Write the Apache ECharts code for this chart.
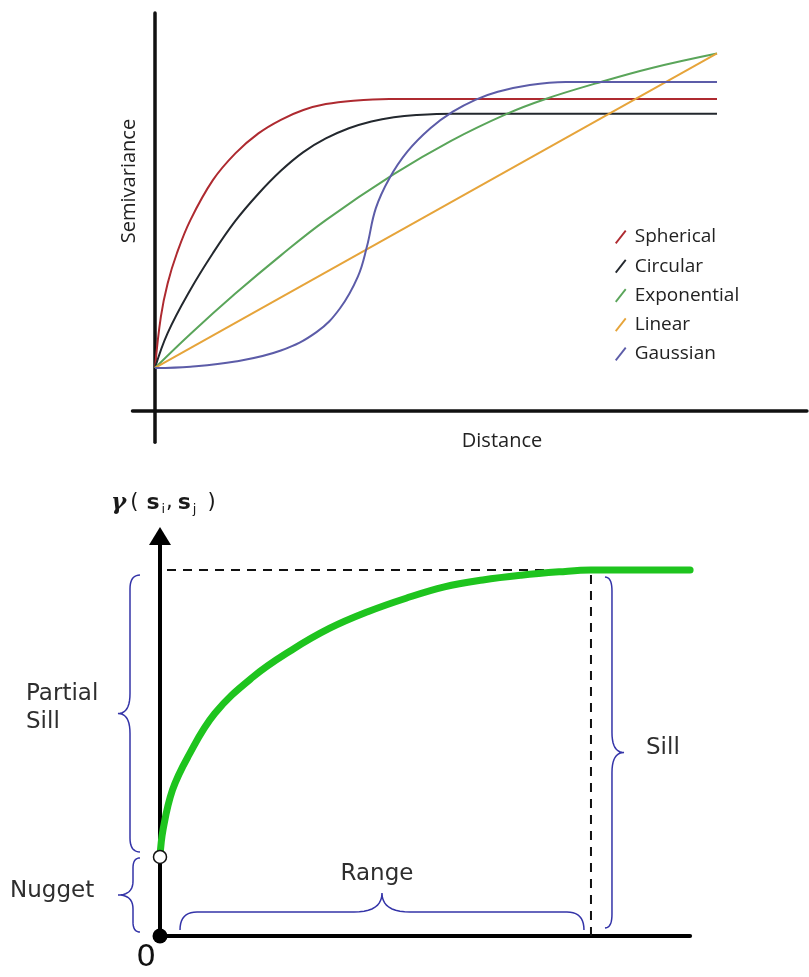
<!DOCTYPE html>
<html><head><meta charset="utf-8">
<script src="https://cdn.jsdelivr.net/npm/echarts@6/dist/echarts.min.js"></script>
<style>html,body{margin:0;padding:0;background:#fff}#c{width:809px;height:977px}</style>
</head><body><div id="c"></div>
<script>
// ---------- Top chart: semivariogram models (distance 0..100) ----------
const modelNames = ['Spherical', 'Circular', 'Exponential', 'Linear', 'Gaussian'];
const spherical = [[0,10],[1.05,22.1],[2.25,29.9],[3.9,37.0],[6.3,44.8],[10.3,54.2],[14.3,60.5],[18.4,65.2],[22.4,68.4],[26.4,70.7],[30.4,72.1],[35.3,72.9],[41.7,73.3],[100,73.3]];
const circular = [[0,10],[2.25,18.2],[6.3,28.4],[10.3,37.0],[14.3,44.6],[18.4,51.0],[22.4,56.4],[26.4,60.8],[30.4,64.0],[34.5,66.4],[38.5,68.0],[42.5,69.0],[46.5,69.5],[53.0,69.8],[100,69.8]];
const exponential = [[0,10],[6.3,18.0],[14.3,27.5],[22.4,36.5],[30.4,44.8],[42.5,55.6],[52.6,63.4],[62.6,69.8],[69.5,73.3],[78.3,76.9],[88.4,80.6],[100,84.0]];
const linear = [[0,10],[100,84.0]];
const gaussian = [[0,10],[6.3,10.3],[14.3,11.5],[22.4,14.1],[28.8,18.5],[32.9,24.0],[36.1,31.5],[37.7,38.5],[39.3,47.6],[41.7,54.6],[44.9,60.9],[49.0,66.4],[53.0,70.3],[57.0,73.1],[61.0,75.0],[66.7,76.6],[73.1,77.3],[100,77.3]];
const topAxisNames = ['Distance', 'Semivariance'];

// ---------- Bottom chart: exponential model with nugget / sill / range ----------
const nugget = 21.6;
const sill = 100;
const range = 100;
const fitted = [[0,21.6],[0.7,29.0],[2.9,39.9],[6.5,49.0],[12.7,60.8],[21.6,70.8],[30.5,78.1],[39.4,84.1],[48.2,88.6],[57.1,92.3],[66.0,95.4],[74.9,97.3],[83.8,98.6],[92.6,99.5],[100,100],[123,100]];
const braceLabels = ['Partial\nSill', 'Nugget', 'Sill', 'Range'];

// ------------------------------------------------------------------
const chart = echarts.init(document.getElementById('c'), null, {renderer: 'canvas'});
const topColors = ['#ae2a30', '#23282e', '#5aa55a', '#e6a43a', '#5c5ca8'];
const topData = [spherical, circular, exponential, linear, gaussian];

const series = [];
modelNames.forEach((n, i) => {
  series.push({
    type: 'line', name: n, xAxisIndex: 0, yAxisIndex: 0, data: topData[i],
    symbol: 'none', showSymbol: false, smooth: 0.4,
    lineStyle: {color: topColors[i], width: 2}, itemStyle: {color: topColors[i]},
    z: 3, silent: true, animation: false
  });
});

// bottom: dashed guides
series.push({
  type: 'line', xAxisIndex: 1, yAxisIndex: 1, data: [[0, sill], [range, sill]],
  symbol: 'none', silent: true, animation: false, z: 2,
  lineStyle: {color: '#111', width: 2, type: [9, 7], dashOffset: 9}
});
series.push({
  type: 'line', xAxisIndex: 1, yAxisIndex: 1, data: [[range, 0], [range, sill]],
  symbol: 'none', silent: true, animation: false, z: 2,
  lineStyle: {color: '#111', width: 2, type: [9, 7]}
});
// fitted curve
series.push({
  type: 'line', xAxisIndex: 1, yAxisIndex: 1, data: fitted, clip: false,
  symbol: 'none', smooth: 0.4, silent: true, animation: false, z: 4,
  lineStyle: {color: '#1ec41e', width: 7, cap: 'round'}
});
// origin & nugget points
series.push({
  type: 'scatter', xAxisIndex: 1, yAxisIndex: 1, data: [[0, 0]], clip: false,
  symbolSize: 15, itemStyle: {color: '#000', opacity: 1}, silent: true, animation: false, z: 6
});
series.push({
  type: 'scatter', xAxisIndex: 1, yAxisIndex: 1, data: [[0, nugget]], clip: false,
  symbolSize: 13, itemStyle: {color: '#fff', borderColor: '#111', borderWidth: 1.5, opacity: 1}, silent: true, animation: false, z: 8
});

// braces (pixel offsets relative to the data segment)
const braceCfg = [
  {dir: 'v', spine: -30, tip: -42, end: -20, inset: [5, 5], rE: 14, rT: 20},
  {dir: 'v', spine: -27, tip: -42, end: -20, inset: [4, 1], rE: 10, rT: 14},
  {dir: 'v', spine: 21, tip: 33, end: 14, inset: [8, 7], rE: 14, rT: 20},
  {dir: 'h', spine: -24, tip: -43, end: -6, inset: [20, 7], rE: 17, rT: 28}
];
function quad(p0, c, p1, out) {
  for (let k = 1; k <= 10; k++) {
    const t = k / 10, a = (1 - t) * (1 - t), b = 2 * (1 - t) * t, d = t * t;
    out.push([a * p0[0] + b * c[0] + d * p1[0], a * p0[1] + b * c[1] + d * p1[1]]);
  }
}
series.push({
  type: 'custom', coordinateSystem: 'cartesian2d', xAxisIndex: 1, yAxisIndex: 1, clip: false,
  silent: true, animation: false, z: 5,
  encode: {x: [0, 2], y: [1, 3]},
  data: [[0, nugget, 0, sill], [0, 0, 0, nugget], [range, 0, range, sill], [0, 0, range, 0]],
  renderItem: function (params, api) {
    const cfg = braceCfg[params.dataIndex];
    const A = api.coord([api.value(0), api.value(1)]);
    const B = api.coord([api.value(2), api.value(3)]);
    let tA, tB, u0;
    if (cfg.dir === 'v') { tA = A[1]; tB = B[1]; u0 = A[0]; } else { tA = A[0]; tB = B[0]; u0 = A[1]; }
    const s = Math.sign(tB - tA);
    const t1 = tA + s * cfg.inset[0], t2 = tB - s * cfg.inset[1], tm = (t1 + t2) / 2;
    const uS = u0 + cfg.spine, uT = u0 + cfg.tip, uE = u0 + cfg.end;
    const P = (t, u) => cfg.dir === 'v' ? [u, t] : [t, u];
    const pts = [P(t1, uE)];
    quad(P(t1, uE), P(t1, uS), P(t1 + s * cfg.rE, uS), pts);
    pts.push(P(tm - s * cfg.rT, uS));
    quad(P(tm - s * cfg.rT, uS), P(tm, uS), P(tm, uT), pts);
    quad(P(tm, uT), P(tm, uS), P(tm + s * cfg.rT, uS), pts);
    pts.push(P(t2 - s * cfg.rE, uS));
    quad(P(t2 - s * cfg.rE, uS), P(t2, uS), P(t2, uE), pts);
    return {type: 'polyline', shape: {points: pts}, style: {stroke: '#3434a8', lineWidth: 1.5, fill: null}};
  }
});

const axisOff = {axisTick: {show: false}, axisLabel: {show: false}, splitLine: {show: false}};
const topFont = '"Open Sans", "Noto Sans", sans-serif';
const botFont = '"DejaVu Sans", Verdana, sans-serif';

chart.setOption({
  backgroundColor: '#fff',
  animation: false,
  grid: [
    {left: 132.5, top: 13.1, width: 674.4, height: 429.25, outerBoundsMode: 'none'},
    {left: 160, top: 536, width: 530.1, height: 400, outerBoundsMode: 'none'}
  ],
  xAxis: [
    Object.assign({type: 'value', gridIndex: 0, min: -4, max: 116,
      axisLine: {show: true, onZero: true, lineStyle: {color: '#111', width: 3.5}}}, axisOff),
    Object.assign({type: 'value', gridIndex: 1, min: 0, max: 123,
      axisLine: {show: true, onZero: false, lineStyle: {color: '#000', width: 4}}}, axisOff)
  ],
  yAxis: [
    Object.assign({type: 'value', gridIndex: 0, min: -7.5, max: 93.5,
      axisLine: {show: true, onZero: true, lineStyle: {color: '#111', width: 3.5}}}, axisOff),
    Object.assign({type: 'value', gridIndex: 1, min: 0, max: 109.3,
      axisLine: {show: true, onZero: false, symbol: ['none', 'triangle'], symbolSize: [22, 18],
        lineStyle: {color: '#000', width: 4}}}, axisOff)
  ],
  legend: {
    orient: 'vertical', left: 610, top: 222,
    itemWidth: 14, itemHeight: 14, itemGap: 9.25,
    icon: 'path://M0,14L11,0L12.6,1.4L1.6,15.4Z',
    data: modelNames,
    selectedMode: false,
    textStyle: {fontFamily: topFont, fontSize: 19, color: '#222', lineHeight: 20, padding: [0, 0, 0, 2]}
  },
  graphic: [
    {type: 'text', x: 129, y: 181, rotation: Math.PI / 2,
      style: {text: topAxisNames[1], font: '20px ' + topFont, fill: '#222', align: 'center', verticalAlign: 'middle'}},
    {type: 'text', x: 502, y: 441,
      style: {text: topAxisNames[0], font: '20px ' + topFont, fill: '#222', align: 'center', verticalAlign: 'middle'}},
    {type: 'text', x: 111, y: 503,
      style: {
        text: '{g|γ}{po|(}{s|s}{sub|i}{c|,}{s|s}{sub2|j}{p|)}',
        verticalAlign: 'middle', align: 'left',
        rich: {
          g: {fontFamily: '"DejaVu Serif", serif', fontStyle: 'italic', fontWeight: 'bold', fontSize: 23, fill: '#1a1a1a', padding: [0, 4, 0, 0]},
          po: {fontFamily: botFont, fontSize: 21, fill: '#1a1a1a', padding: [0, 8, 0, 0]},
          p: {fontFamily: botFont, fontSize: 21, fill: '#1a1a1a'},
          c: {fontFamily: botFont, fontSize: 21, fill: '#1a1a1a', padding: [0, 5, 0, 0]},
          s: {fontFamily: botFont, fontWeight: 'bold', fontSize: 22, fill: '#1a1a1a'},
          sub: {fontFamily: botFont, fontSize: 13, fill: '#1a1a1a', padding: [14, 1, 0, 2]},
          sub2: {fontFamily: botFont, fontSize: 13, fill: '#1a1a1a', padding: [14, 11, 0, 2]}
        }
      }},
    {type: 'text', x: 26, y: 680,
      style: {text: braceLabels[0], font: '23px ' + botFont, fill: '#2e2e2e', align: 'left', verticalAlign: 'top', lineHeight: 28}},
    {type: 'text', x: 10, y: 891,
      style: {text: braceLabels[1], font: '23px ' + botFont, fill: '#2e2e2e', align: 'left', verticalAlign: 'middle'}},
    {type: 'text', x: 646, y: 748,
      style: {text: braceLabels[2], font: '23px ' + botFont, fill: '#2e2e2e', align: 'left', verticalAlign: 'middle'}},
    {type: 'text', x: 377, y: 874,
      style: {text: braceLabels[3], font: '23px ' + botFont, fill: '#2e2e2e', align: 'center', verticalAlign: 'middle'}},
    {type: 'text', x: 146, y: 958,
      style: {text: '0', font: '31px ' + botFont, fill: '#111', align: 'center', verticalAlign: 'middle'}}
  ],
  series: series
});
</script>
</body></html>
